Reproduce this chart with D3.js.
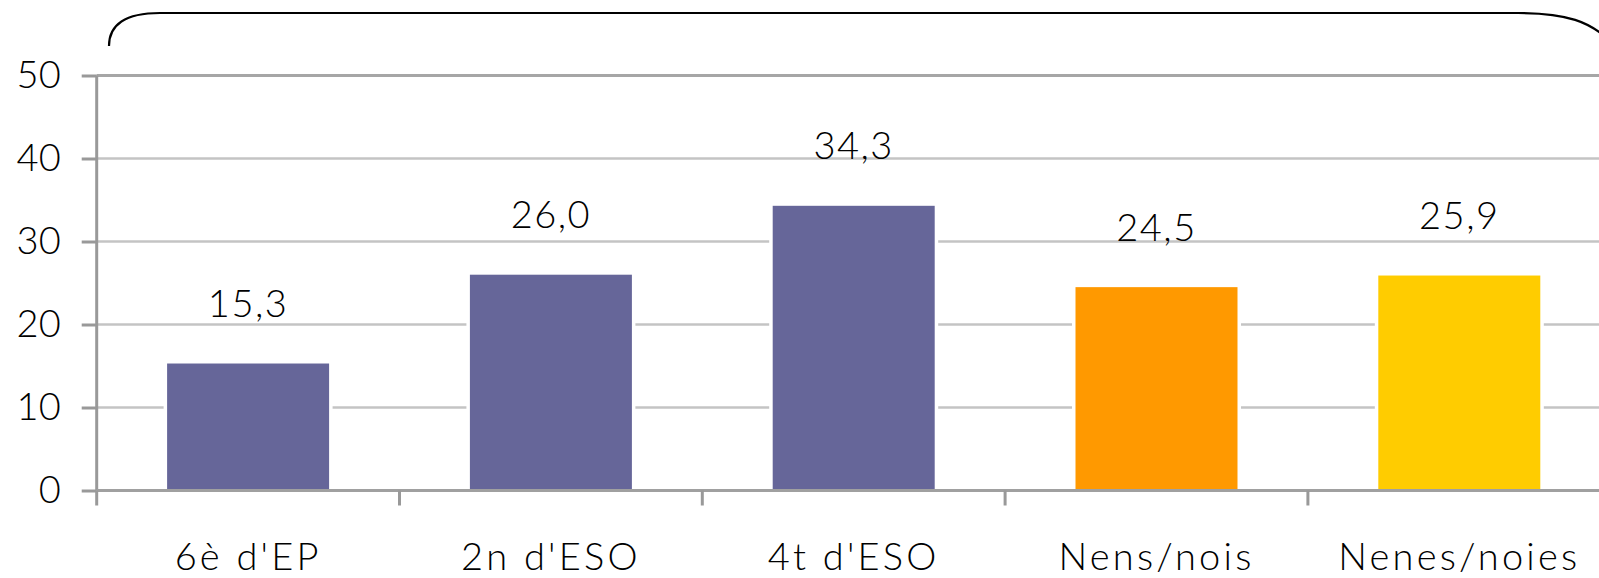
<!DOCTYPE html>
<html><head><meta charset="utf-8">
<script src="https://cdn.jsdelivr.net/npm/d3@7/dist/d3.min.js"></script>
<style>
html,body{margin:0;padding:0;background:#fff;overflow:hidden;}
text{font-family:"Lato","Open Sans",sans-serif;font-weight:300;fill:#000;}
</style></head>
<body>
<svg id="c" width="1599" height="578"></svg>
<script>
const categories = ["6è d'EP", "2n d'ESO", "4t d'ESO", "Nens/nois", "Nenes/noies"];
const values = [15.3, 26.0, 34.3, 24.5, 25.9];
const barColors = ["#666699", "#666699", "#666699", "#FF9900", "#FFCC00"];
const yTicks = [0, 10, 20, 30, 40, 50];

const svg = d3.select("#c");
const left = 96.7, step = 302.8, y0 = 490.5, y50 = 75.5;
const x = d3.scaleBand().domain(categories).range([left, left + step * categories.length])
  .paddingInner(0.465).paddingOuter(0.2325);
const y = d3.scaleLinear().domain([0, 50]).range([y0, y50]);
const fmt = v => d3.format(".1f")(v).replace(".", ",");
const FS = 38;

// gridlines
svg.append("g").selectAll("line").data(yTicks.filter(t => t > 0)).join("line")
  .attr("x1", left).attr("x2", 1599)
  .attr("y1", d => y(d)).attr("y2", d => y(d))
  .attr("stroke", d => d === 50 ? "#a6a6a6" : "#c4c4c4")
  .attr("stroke-width", d => d === 50 ? 3 : 2.5);

// bars with white outline
const bars = svg.append("g");
bars.selectAll("rect.bg").data(categories).join("rect")
  .attr("x", d => x(d) - 3.5).attr("width", x.bandwidth() + 7)
  .attr("y", (d, i) => y(values[i]) - 3.5).attr("height", (d, i) => y0 - y(values[i]) + 3.5)
  .attr("fill", "#fff");
bars.selectAll("rect.fg").data(categories).join("rect")
  .attr("x", d => x(d)).attr("width", x.bandwidth())
  .attr("y", (d, i) => y(values[i])).attr("height", (d, i) => y0 - y(values[i]))
  .attr("fill", (d, i) => barColors[i]);

// y axis
const yAxis = d3.axisLeft(y).tickValues(yTicks).tickSize(15).tickPadding(21).tickFormat(d3.format("d"));
const gy = svg.append("g").attr("transform", `translate(${left},0)`).call(yAxis);
gy.select(".domain").attr("stroke", "#999").attr("stroke-width", 3).attr("d", `M0,${y50}V${y0}`);
gy.selectAll(".tick line").attr("stroke", "#999").attr("stroke-width", 3);
gy.selectAll(".tick text").attr("font-size", FS).attr("font-family", null).attr("fill", "#000");

// x axis
const xAxis = d3.axisBottom(x).tickSize(0).tickPadding(0);
const gx = svg.append("g").attr("transform", `translate(0,${y0})`).call(xAxis);
gx.select(".domain").attr("stroke", "#a0a0a0").attr("stroke-width", 3).attr("d", `M${left},0H1599`);
gx.selectAll(".tick text").attr("font-size", FS).attr("font-family", null).attr("fill", "#000")
  .attr("dy", 0).attr("y", 570 - y0).attr("letter-spacing", 3.2);
// category boundary ticks
const bounds = d3.range(categories.length + 1).map(i => left + i * x.step());
gx.selectAll("line.b").data(bounds).join("line")
  .attr("x1", d => d).attr("x2", d => d).attr("y1", 0).attr("y2", 15)
  .attr("stroke", "#999").attr("stroke-width", 3);

// value labels
svg.append("g").selectAll("text").data(categories).join("text")
  .attr("x", d => x(d) + x.bandwidth() / 2)
  .attr("y", (d, i) => y(values[i]) - 46.5)
  .attr("text-anchor", "middle").attr("font-size", FS).attr("letter-spacing", 1.5)
  .text((d, i) => fmt(values[i]));

// top bracket
svg.append("path")
  .attr("d", "M109,46 C109,25 125,13 160,13 L1518,13 C1565,13 1592,21 1612,44")
  .attr("fill", "none").attr("stroke", "#000").attr("stroke-width", 2.2);
</script>
</body></html>
